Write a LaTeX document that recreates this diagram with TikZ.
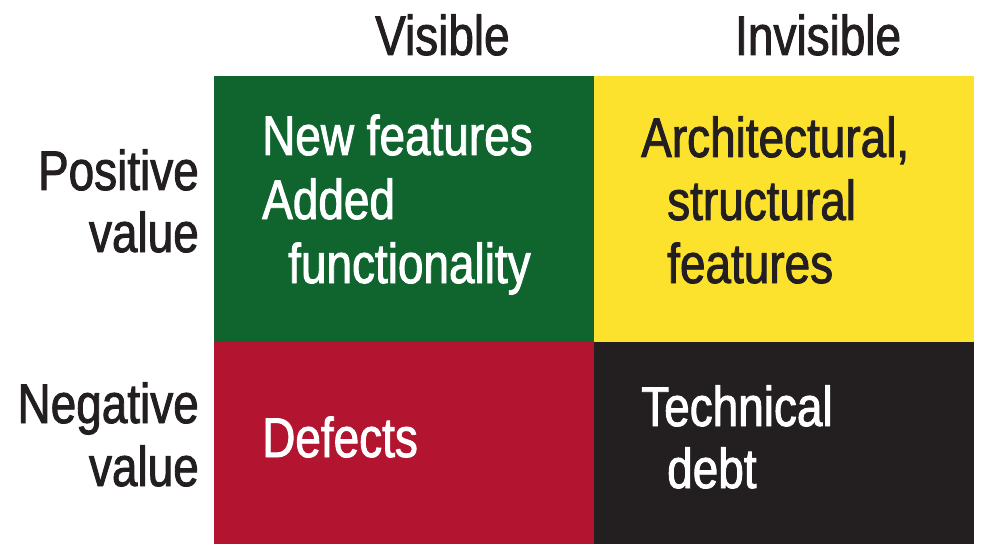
\documentclass[tikz,border=0pt]{standalone}
\usepackage{fontspec}
\setmainfont{Liberation Sans}[FakeStretch=0.82, FakeBold=1.6]
\definecolor{qgreen}{HTML}{10652F}
\definecolor{qyellow}{HTML}{FDE22D}
\definecolor{qred}{HTML}{B31530}
\definecolor{qblack}{HTML}{231F20}
\begin{document}
\begin{tikzpicture}[x=1pt,y=1pt,
  lbl/.style={inner sep=0pt, font=\fontsize{56}{63}\selectfont},
  dark/.style={lbl, text=qblack},
  light/.style={lbl, text=white}]
\useasboundingbox (0,0) rectangle (992,555);
% quadrants
\fill[qgreen]  (214,213) rectangle (594,479);
\fill[qyellow] (594,213) rectangle (974,479);
\fill[qred]    (214,11)  rectangle (594,213);
\fill[qblack]  (594,11)  rectangle (974,213);
% column headings
\node[dark, anchor=base west] (vis) at (375,500) {Visible};
\node[dark, anchor=base west] (inv) at (735,500) {Invisible};
% row headings
\node[dark, anchor=base east] (pos1) at (199,365) {Positive};
\node[dark, anchor=base east] (pos2) at (199,303) {value};
\node[dark, anchor=base east] (neg1) at (199,132) {Negative};
\node[dark, anchor=base east] (neg2) at (199,69) {value};
% visible, positive
\node[light, anchor=base west] (g1) at (262,400) {New features};
\node[light, anchor=base west] (g2) at (262,336) {Added};
\node[light, anchor=base west] (g3) at (288,272) {functionality};
% invisible, positive
\node[dark, anchor=base west] (y1) at (641,398) {Architectural,};
\node[dark, anchor=base west] (y2) at (667,335) {structural};
\node[dark, anchor=base west] (y3) at (667,272) {features};
% visible, negative
\node[light, anchor=base west] (r1) at (262,98) {Defects};
% invisible, negative
\node[light, anchor=base west] (b1) at (641,129) {Technical};
\node[light, anchor=base west] (b2) at (667,67) {debt};
\end{tikzpicture}
\end{document}
